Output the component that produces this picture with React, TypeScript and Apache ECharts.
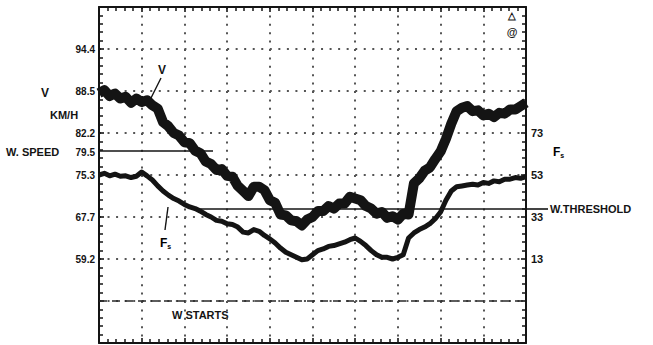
import React, { useEffect, useRef } from "react";
import * as echarts from "echarts";

// Horizontal position in screen divisions (10 divisions across)
const xDiv = [
  0, 0.125, 0.25, 0.375, 0.5, 0.625, 0.75, 0.875, 1, 1.125, 1.25, 1.375, 1.5, 1.625, 1.75, 1.875,
  2, 2.125, 2.25, 2.375, 2.5, 2.625, 2.75, 2.875, 3, 3.125, 3.25, 3.375, 3.5, 3.625, 3.75, 3.875,
  4, 4.125, 4.25, 4.375, 4.5, 4.625, 4.75, 4.875, 5, 5.125, 5.25, 5.375, 5.5, 5.625, 5.75, 5.875,
  6, 6.125, 6.25, 6.375, 6.5, 6.625, 6.75, 6.875, 7, 7.125, 7.25, 7.375, 7.5, 7.625, 7.75, 7.875,
  8, 8.125, 8.25, 8.375, 8.5, 8.625, 8.75, 8.875, 9, 9.125, 9.25, 9.375, 9.5, 9.625, 9.75, 9.875, 10,
];

// V trace (speed), vertical position in screen divisions (8 divisions high)
const vTrace = [
  5.95, 6.02, 5.88, 5.94, 5.82, 5.86, 5.72, 5.82, 5.74, 5.78, 5.66, 5.58, 5.26, 5.16, 5.0, 4.94,
  4.78, 4.76, 4.58, 4.52, 4.32, 4.26, 4.12, 4.14, 3.98, 3.96, 3.74, 3.62, 3.5, 3.72, 3.72, 3.64,
  3.4, 3.34, 3.06, 3.04, 2.92, 2.9, 2.8, 2.94, 3.0, 3.14, 3.14, 3.26, 3.2, 3.32, 3.32, 3.48,
  3.44, 3.4, 3.26, 3.2, 3.08, 3.12, 2.98, 3.02, 2.94, 3.08, 3.06, 3.8, 3.92, 4.1, 4.18, 4.38,
  4.56, 4.86, 5.22, 5.52, 5.6, 5.64, 5.52, 5.54, 5.42, 5.46, 5.38, 5.48, 5.46, 5.56, 5.56, 5.64, 5.72,
];

// F_s trace, vertical position in screen divisions
const fsTrace = [
  4.0, 4.04, 3.98, 4.02, 3.97, 3.98, 3.94, 3.97, 4.07, 3.98, 3.88, 3.74, 3.62, 3.52, 3.44, 3.38,
  3.3, 3.24, 3.2, 3.14, 3.06, 3.0, 2.92, 2.9, 2.84, 2.82, 2.76, 2.64, 2.62, 2.7, 2.66, 2.56,
  2.48, 2.38, 2.26, 2.16, 2.1, 2.04, 1.98, 2.0, 2.1, 2.2, 2.24, 2.3, 2.32, 2.36, 2.4, 2.46,
  2.5, 2.42, 2.32, 2.2, 2.1, 2.04, 2.04, 2.0, 2.04, 2.1, 2.5, 2.62, 2.7, 2.76, 2.84, 2.96,
  3.12, 3.4, 3.62, 3.72, 3.74, 3.76, 3.78, 3.76, 3.82, 3.8, 3.86, 3.84, 3.9, 3.9, 3.94, 3.92, 3.96,
];

// Tick labels indexed by division (0 = bottom, 8 = top)
const vTickLabels = ["", "", "59.2", "67.7", "75.3", "82.2", "88.5", "94.4", ""];
const fsTickLabels = ["", "", "13", "33", "53", "73", "", "", ""];

// Reference levels
const wSpeedLabel = "79.5";
const wSpeedLevel = 4.57;
const wSpeedEnd = 2.67;
const wThresholdLevel = 3.19;
const wThresholdStart = 2.37;
const wStartsLevel = 1;

const FONT = "'Liberation Sans', Arial, sans-serif";
const INK = "#141414";

export default function App() {
  const ref = useRef<HTMLDivElement>(null);

  useEffect(() => {
    if (!ref.current) return;
    const chart = echarts.init(ref.current, undefined, { renderer: "svg" });

    const axisLine = { show: true, onZero: false, lineStyle: { color: INK, width: 2 } };
    const tick = { show: true, inside: true, length: 5, lineStyle: { color: INK, width: 1.6 } };
    const minor = { show: true, splitNumber: 5, length: 4, lineStyle: { color: INK, width: 1.5 } };

    const xAx = (position: string, grid: boolean) => ({
      type: "value",
      position,
      min: 0,
      max: 10,
      interval: 1,
      axisLine,
      axisTick: tick,
      minorTick: minor,
      axisLabel: { show: false },
      splitLine: {
        show: grid,
        lineStyle: { color: "#555555", width: 2, type: [2, 6.4] },
      },
    });

    const yAx = (position: string, labels: string[], grid: boolean, margin: number) => ({
      type: "value",
      position,
      min: 0,
      max: 8,
      interval: 1,
      axisLine,
      axisTick: tick,
      minorTick: minor,
      axisLabel: {
        show: true,
        margin,
        color: INK,
        fontFamily: FONT,
        fontWeight: "bold",
        fontSize: position === "left" ? 10 : 11,
        formatter: (v: number) => labels[Math.round(v)] || "",
      },
      splitLine: {
        show: grid,
        lineStyle: { color: "#555555", width: 2, type: [2, 6.54] },
      },
    });

    const text = (x: number, y: number, t: string, size: number, align = "left", extra: any = {}) => ({
      type: "text",
      x,
      y,
      silent: true,
      style: {
        text: t,
        fill: INK,
        font: `bold ${size}px ${FONT}`,
        align,
        verticalAlign: "middle",
        ...extra,
      },
    });

    const line = (x1: number, y1: number, x2: number, y2: number, w = 1.4) => ({
      type: "line",
      silent: true,
      shape: { x1, y1, x2, y2 },
      style: { stroke: INK, lineWidth: w },
    });

    const fsRich = {
      f: { fontSize: 12, fontWeight: "bold", fontFamily: FONT, color: INK },
      s: { fontSize: 7, fontWeight: "bold", fontFamily: FONT, color: INK, padding: [7, 0, 0, 0] },
    };

    chart.setOption({
      animation: false,
      backgroundColor: "#ffffff",
      grid: { left: 99, top: 7, right: 127, bottom: 2, containLabel: false },
      xAxis: [xAx("bottom", true), xAx("top", false)],
      yAxis: [yAx("left", vTickLabels, true, 4), yAx("right", fsTickLabels, false, 5)],
      series: [
        {
          name: "V",
          type: "line",
          xAxisIndex: 0,
          yAxisIndex: 0,
          data: xDiv.map((x, i) => [x, vTrace[i]]),
          showSymbol: false,
          symbol: "none",
          lineStyle: { color: INK, width: 10, join: "round" },
          silent: true,
          z: 5,
        },
        {
          name: "Fs",
          type: "line",
          xAxisIndex: 0,
          yAxisIndex: 0,
          data: xDiv.map((x, i) => [x, fsTrace[i]]),
          showSymbol: false,
          symbol: "none",
          lineStyle: { color: INK, width: 5, join: "round" },
          silent: true,
          z: 5,
          markLine: {
            silent: true,
            symbol: ["none", "none"],
            label: { show: false },
            animation: false,
            data: [
              [
                { coord: [0, wSpeedLevel], lineStyle: { color: INK, width: 1.6, type: "solid" } },
                { coord: [wSpeedEnd, wSpeedLevel] },
              ],
              [
                { coord: [wThresholdStart, wThresholdLevel], lineStyle: { color: INK, width: 1.6, type: "solid" } },
                { coord: [10, wThresholdLevel] },
              ],
              [
                { coord: [0, wStartsLevel], lineStyle: { color: "#2a2a2a", width: 1.6, type: [8, 5] } },
                { coord: [10, wStartsLevel] },
              ],
            ],
          },
        },
      ],
      graphic: [
        text(45, 93, "V", 12, "center"),
        text(50, 115, "KM/H", 11),
        text(6, 152, "W. SPEED", 11),
        text(95, 152, wSpeedLabel, 10, "right"),
        line(526, 209, 548, 209, 1.6),
        text(550, 209, "W.THRESHOLD", 11),
        text(172, 315, "W STARTS", 11),
        text(162, 70, "V", 12, "center"),
        line(161, 78, 151, 98),
        {
          type: "text",
          x: 160,
          y: 236,
          silent: true,
          style: { text: "{f|F}{s|s}", rich: fsRich },
        },
        line(168, 207, 165, 230),
        {
          type: "text",
          x: 553,
          y: 145,
          silent: true,
          style: { text: "{f|F}{s|s}", rich: fsRich },
        },
        text(512, 15, "△", 10, "center"),
        text(512, 32, "@", 11, "center"),
      ],
    });

    return () => chart.dispose();
  }, []);

  return (
    <div
      ref={ref}
      style={{ position: "fixed", left: 0, top: 0, width: 653, height: 345, background: "#fff" }}
    />
  );
}
